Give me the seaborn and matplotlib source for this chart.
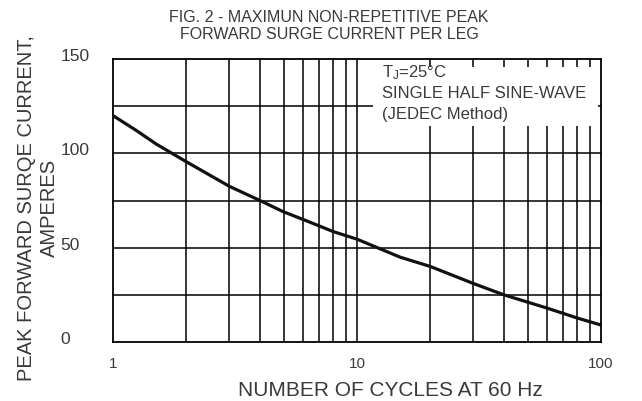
import numpy as np
import pandas as pd
import matplotlib
matplotlib.use("Agg")
import matplotlib.pyplot as plt
import matplotlib.transforms as mtransforms
import seaborn as sns
from matplotlib.patches import Rectangle

# ── Data ──────────────────────────────────────────────────────────────────────
cycles  = [1, 1.25, 1.5, 2, 3, 4, 5, 6, 8, 10, 15, 20, 30, 40, 60, 80, 100]
current = [120, 112, 105, 95.5, 82.5, 75, 69, 65, 58.5, 54.5, 45, 40, 31, 25, 18, 12.7, 9]

y_ticks   = [0, 50, 100, 150]
y_grid    = [25, 50, 75, 100, 125]
x_ticks   = [1, 10, 100]
x_labels  = ["1", "10", "100"]
x_grid    = [2, 3, 4, 5, 6, 7, 8, 9, 10, 20, 30, 40, 50, 60, 70, 80, 90]

TITLE  = "FIG. 2 - MAXIMUN NON-REPETITIVE PEAK\nFORWARD SURGE CURRENT PER LEG"
XLABEL = "NUMBER OF CYCLES AT 60 Hz"
YLABEL = "PEAK FORWARD SURQE CURRENT,\nAMPERES"
NOTE_LINES = ["T$_J$=25°C", "SINGLE HALF SINE-WAVE", "(JEDEC Method)"]

TEXT_C = "#3a3a3a"
W, H = 642, 402

# ── Style ─────────────────────────────────────────────────────────────────────
sns.set_style("white")
plt.rcParams["font.family"] = ["Liberation Sans", "DejaVu Sans"]
plt.rcParams["mathtext.fontset"] = "custom"
plt.rcParams["mathtext.rm"] = "Liberation Sans"
plt.rcParams["mathtext.it"] = "Liberation Sans"

fig = plt.figure(figsize=(W / 100, H / 100), dpi=100)
# axes box: x 113..601 px, y 60..343 px
ax = fig.add_axes([113 / W, 1 - 343 / H, 488 / W, 283 / H])

df = pd.DataFrame({"cycles": cycles, "current": current})

# grid lines
for g in y_grid:
    ax.axhline(g, color="black", lw=1.1, zorder=1)
for g in x_grid:
    ax.axvline(g, color="black", lw=1.1, zorder=1)

sns.lineplot(data=df, x="cycles", y="current", color="#111111", lw=2.3,
             ax=ax, zorder=3)

ax.set_xscale("log")
ax.set_xlim(1, 100)
ax.set_ylim(0, 150)

ax.set_xticks(x_ticks)
ax.set_xticklabels(x_labels)
ax.set_yticks(y_ticks)
ax.minorticks_off()
ax.tick_params(axis="both", length=0, labelcolor=TEXT_C)
ax.tick_params(axis="x", labelsize=11, pad=10)
ax.tick_params(axis="y", labelsize=12.5, pad=38)
# y labels sit a little above their grid line, left aligned
shift = mtransforms.ScaledTranslation(0, 5 / 100, fig.dpi_scale_trans)
for lab in ax.get_yticklabels():
    lab.set_horizontalalignment("left")
    lab.set_verticalalignment("center_baseline")
    lab.set_transform(lab.get_transform() + shift)

for s in ax.spines.values():
    s.set_visible(True)
    s.set_color("black")
    s.set_linewidth(1.3)
    s.set_zorder(4)

ax.set_xlabel("")
ax.set_ylabel("")
fig.text(390 / W, 1 - 391 / H, XLABEL, ha="center", va="center",
         fontsize=15, color=TEXT_C)
fig.text(38 / W, 1 - 208 / H, YLABEL, ha="center", va="center",
         rotation=90, fontsize=14.5, color=TEXT_C, linespacing=1.3)
fig.text(329 / W, 1 - 26 / H, TITLE, ha="center", va="center",
         fontsize=11.5, color=TEXT_C, linespacing=1.15)

# note box: white patch that hides the grid behind the text
ax.add_patch(Rectangle((260 / 488, (343 - 127) / 283), 225 / 488, 59 / 283,
                       transform=ax.transAxes, fc="white", ec="none",
                       zorder=2))
for i, line in enumerate(NOTE_LINES):
    ax.text(269 / 488, (343 - (73 + 21 * i)) / 283, line,
            transform=ax.transAxes, ha="left", va="center",
            fontsize=12, color=TEXT_C, zorder=5)

fig.savefig("out.png", dpi=100)
